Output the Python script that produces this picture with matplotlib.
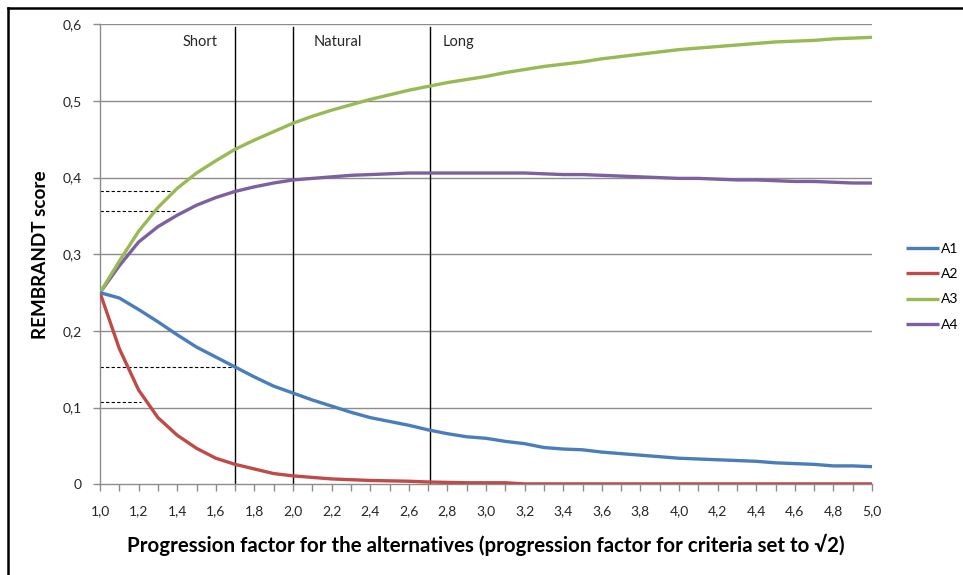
import matplotlib
matplotlib.use("Agg")
import matplotlib.pyplot as plt
from matplotlib.lines import Line2D
from matplotlib.ticker import FixedLocator

plt.rcParams['font.family'] = ['Lato', 'DejaVu Sans']

# Progression factor for the alternatives (categories)
factors = [1.0, 1.1, 1.2, 1.3, 1.4, 1.5, 1.6, 1.7, 1.8, 1.9,
           2.0, 2.1, 2.2, 2.3, 2.4, 2.5, 2.6, 2.7, 2.8, 2.9,
           3.0, 3.1, 3.2, 3.3, 3.4, 3.5, 3.6, 3.7, 3.8, 3.9,
           4.0, 4.1, 4.2, 4.3, 4.4, 4.5, 4.6, 4.7, 4.8, 4.9, 5.0]

a1 = [0.250, 0.243, 0.228, 0.212, 0.195, 0.179, 0.166, 0.153, 0.140, 0.128,
      0.119, 0.110, 0.102, 0.094, 0.087, 0.082, 0.077, 0.071, 0.066, 0.062,
      0.060, 0.056, 0.053, 0.048, 0.046, 0.045, 0.042, 0.040, 0.038, 0.036,
      0.034, 0.033, 0.032, 0.031, 0.030, 0.028, 0.027, 0.026, 0.024, 0.024, 0.023]

a2 = [0.250, 0.177, 0.123, 0.087, 0.064, 0.047, 0.034, 0.026, 0.020, 0.014,
      0.011, 0.009, 0.007, 0.006, 0.005, 0.0045, 0.004, 0.003, 0.0025, 0.002,
      0.002, 0.002, 0.0005, 0.0005, 0.0005, 0.0005, 0.0005, 0.0005, 0.0005, 0.0005,
      0.0005, 0.0005, 0.0005, 0.0005, 0.0005, 0.0005, 0.0005, 0.0005, 0.0005, 0.0005, 0.0005]

a3 = [0.250, 0.291, 0.330, 0.361, 0.386, 0.406, 0.422, 0.437, 0.449, 0.460,
      0.471, 0.480, 0.488, 0.495, 0.502, 0.508, 0.514, 0.519, 0.524, 0.528,
      0.532, 0.537, 0.541, 0.545, 0.548, 0.551, 0.555, 0.558, 0.561, 0.564,
      0.567, 0.569, 0.571, 0.573, 0.575, 0.577, 0.578, 0.579, 0.581, 0.582, 0.583]

a4 = [0.250, 0.285, 0.316, 0.336, 0.351, 0.364, 0.374, 0.382, 0.388, 0.393,
      0.397, 0.399, 0.401, 0.403, 0.404, 0.405, 0.406, 0.406, 0.406, 0.406,
      0.406, 0.406, 0.406, 0.405, 0.404, 0.404, 0.403, 0.402, 0.401, 0.400,
      0.399, 0.399, 0.398, 0.397, 0.397, 0.396, 0.395, 0.395, 0.394, 0.393, 0.393]

series_names = ['A1', 'A2', 'A3', 'A4']
series_colors = ['#4A7EBB', '#BE4B48', '#98B954', '#7D60A0']

region_bounds = [1.7, 2.0, 2.71]
region_labels = ['Short', 'Natural', 'Long']
region_label_x = [1.52, 2.23, 2.86]

# reference dashed lines: (y value, x end)
ref_levels = [0.382, 0.356, 0.153, 0.107]
ref_ends = [1.39, 1.39, 1.69, 1.21]

xtick_labels = ['1,0', '1,2', '1,4', '1,6', '1,8', '2,0', '2,2', '2,4', '2,6', '2,8', '3,0',
                '3,2', '3,4', '3,6', '3,8', '4,0', '4,2', '4,4', '4,6', '4,8', '5,0']
ytick_labels = ['0', '0,1', '0,2', '0,3', '0,4', '0,5', '0,6']

W, H = 963, 575
fig = plt.figure(figsize=(W / 100, H / 100), dpi=100)
ax = fig.add_axes([100 / W, 1 - 484.3 / H, (872 - 100) / W, (484.3 - 24.3) / H])

grid_c = '#8C8C8C'
for i, (vals, name, col) in enumerate(zip([a1, a2, a3, a4], series_names, series_colors)):
    ax.plot(factors, vals, color=col, lw=2.4, label=name, zorder=3 + (3 - i) * 0.1,
            solid_capstyle='butt', solid_joinstyle='round')

ax.set_xlim(1.0, 5.0)
ax.set_ylim(0, 0.6)

# Ticks
major_x = [factors[i] for i in range(0, len(factors), 2)]
ax.xaxis.set_major_locator(FixedLocator(major_x))
ax.xaxis.set_minor_locator(FixedLocator(factors))
ax.set_xticklabels(xtick_labels)
yt = [0, 0.1, 0.2, 0.3, 0.4, 0.5, 0.6]
ax.set_yticks(yt)
ax.set_yticklabels(ytick_labels)
ax.tick_params(axis='x', which='both', direction='out', length=5, width=1, color=grid_c,
               labelsize=10, pad=10, labelcolor='#262626')
ax.tick_params(axis='y', which='major', direction='out', length=5, width=1, color=grid_c,
               labelsize=10, pad=8, labelcolor='#262626')

for v in yt[1:]:
    ax.axhline(v, color=grid_c, lw=1, zorder=1)

for s in ['top', 'right']:
    ax.spines[s].set_visible(False)
for s in ['left', 'bottom']:
    ax.spines[s].set_color(grid_c)
    ax.spines[s].set_linewidth(1)

# Region boundaries and labels
for xb in region_bounds:
    ax.axvline(xb, ymin=0, ymax=0.995, color='black', lw=1, zorder=2)
for lab, xl in zip(region_labels, region_label_x):
    ax.text(xl, 0.577, lab, ha='center', va='center', fontsize=10.5, color='#262626')

# Dashed reference lines
for lvl, xe in zip(ref_levels, ref_ends):
    ax.plot([factors[0], xe], [lvl, lvl], color='black', lw=0.8, ls=(0, (3, 2)), zorder=2)

ax.set_xlabel('Progression factor for the alternatives (progression factor for criteria set to \u221a2)',
              fontsize=14.8, fontweight='bold', labelpad=12, color='black')
ax.set_ylabel('REMBRANDT score', fontsize=13.6, fontweight='bold', labelpad=10, color='black')

leg = fig.legend(loc='upper left', bbox_to_anchor=(906 / W, 1 - 243 / H), frameon=False,
                 fontsize=10, handlelength=2.4, handletextpad=0.15, labelspacing=0.95,
                 borderaxespad=0, borderpad=0)

# outer chart border (top and left visible)
fig.add_artist(Line2D([8 / W, 1.0], [1 - 8 / H, 1 - 8 / H], transform=fig.transFigure,
                      color='black', lw=1.8))
fig.add_artist(Line2D([8 / W, 8 / W], [0, 1 - 8 / H], transform=fig.transFigure,
                      color='black', lw=1.8))

fig.savefig('out.png', dpi=100)
